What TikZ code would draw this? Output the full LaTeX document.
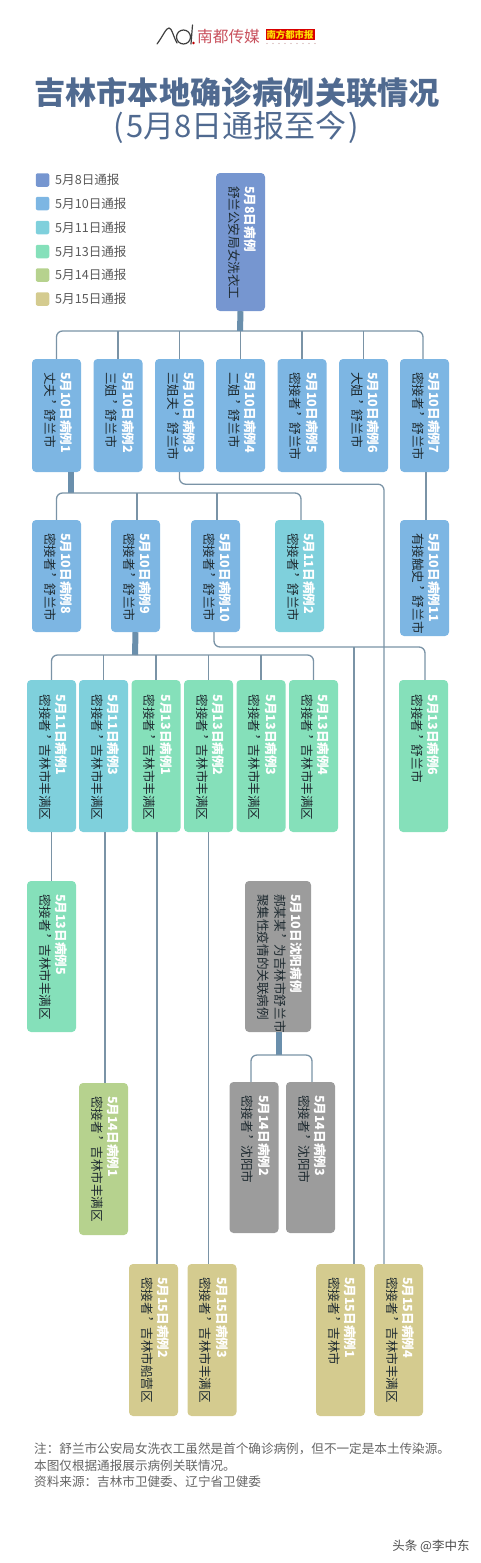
\documentclass[tikz,border=0pt]{standalone}
\usepackage{fontspec}
\setmainfont{Noto Sans CJK SC}
\newfontfamily\vertfont[Vertical=RotatedGlyphs]{Noto Sans CJK SC}
\definecolor{day8}{HTML}{7696D0}
\definecolor{day10}{HTML}{7DB6E3}
\definecolor{day11}{HTML}{7FD0DC}
\definecolor{day13}{HTML}{85E0BA}
\definecolor{day14}{HTML}{B6D28E}
\definecolor{day15}{HTML}{D4CB8F}
\definecolor{dayx}{HTML}{9C9C9C}
\definecolor{linkcol}{HTML}{7A93A6}
\definecolor{trunkcol}{HTML}{6A8FAC}
\definecolor{titlecol}{HTML}{506A90}
\definecolor{inkcol}{HTML}{1E2A30}
\definecolor{mediacol}{HTML}{C8505C}
\newcommand{\casehead}[1]{{\bfseries\color{white}#1}}
\newcommand{\vc}{\kern-5pt，\kern5pt}
\tikzset{
  casebox/.style={rounded corners=4pt,rotate=-90,inner xsep=13pt,inner ysep=0pt,minimum height=49pt,align=left,text width=#1pt-26pt,text=inkcol,font=\fontsize{12.6}{16.5}\selectfont\vertfont,execute at end node={\par\vspace{4pt}}},
  lowtext/.style={execute at begin node={\leftskip=1.5pt\relax}},
  link/.style={draw=linkcol,line width=1.3pt},
  trunk/.style={draw=trunkcol,line width=6pt},
  legbox/.style={rounded corners=2pt,minimum size=13.5pt,inner sep=0pt},
  legtext/.style={anchor=west,inner sep=0pt,text=black!65,font=\fontsize{12.6}{14}\selectfont}
}
\begin{document}
\begin{tikzpicture}[x=1pt,y=-1pt]
  \useasboundingbox (0,0) rectangle (480,1563);
  % masthead
  \draw[black!75,line width=1.2pt,line cap=round] (157,44) .. controls (163,36) and (166,28) .. (169,28) .. controls (172,28) and (173,36) .. (177,43);
  \draw[black!75,line width=1.2pt] (183.5,37) circle (7);
  \draw[black!75,line width=1.2pt,line cap=round] (192.5,25) -- (191,44);
  \fill[red!75!black] (193.5,43) circle (1.3);
  \node[inner sep=0pt,text=mediacol,font=\fontsize{15.7}{16}\selectfont] (media) at (228.5,37) {南都传媒};
  \node[fill=red!85!black,inner sep=1pt,minimum width=48pt,minimum height=11pt,text=yellow!85!orange,font=\fontsize{9.4}{10}\selectfont\bfseries] (paper) at (290,34.5) {南方都市报};
  \foreach \x in {267,273,...,315} \fill[red!40!black!40] (\x,43.5) circle (0.6);
  \node[inner sep=0pt,text=titlecol,font=\fontsize{31.2}{34}\selectfont\bfseries] (title) at (237,93) {吉林市本地确诊病例关联情况};
  \node[inner sep=0pt,text=titlecol,font=\fontsize{31}{34}\selectfont] (subtitle) at (236.5,127) {(\kern2pt 5月8日通报至今\kern2pt)};
  % legend
  \foreach \n/\y/\c/\t in {1/180/day8/5月8日通报,2/203.5/day10/5月10日通报,3/227.5/day11/5月11日通报,4/251.5/day13/5月13日通报,5/275/day14/5月14日通报,6/299/day15/5月15日通报}{
    \node[legbox,fill=\c] (leg\n) at (42.5,\y) {};
    \node[legtext] (legt\n) at (55,\y) {\t};
  }
  % cases
  \node[casebox=138,fill=day8] (root) at (240.5,242) {\casehead{5月8日病例}\\舒兰公安局女洗衣工};
  \node[casebox=113,fill=day10] (a1) at (56.5,415.5) {\casehead{5月10日病例1}\\丈夫\vc 舒兰市};
  \node[casebox=113,fill=day10] (a2) at (118,415.5) {\casehead{5月10日病例2}\\三姐\vc 舒兰市};
  \node[casebox=113,fill=day10] (a3) at (179.5,415.5) {\casehead{5月10日病例3}\\三姐夫\vc 舒兰市};
  \node[casebox=113,fill=day10] (a4) at (240.5,415.5) {\casehead{5月10日病例4}\\二姐\vc 舒兰市};
  \node[casebox=113,fill=day10] (a5) at (302,415.5) {\casehead{5月10日病例5}\\密接者\vc 舒兰市};
  \node[casebox=113,fill=day10] (a6) at (363.5,415.5) {\casehead{5月10日病例6}\\大姐\vc 舒兰市};
  \node[casebox=113,fill=day10] (a7) at (424.5,415.5) {\casehead{5月10日病例7}\\密接者\vc 舒兰市};
  \node[casebox=112,fill=day10] (b1) at (56.5,576) {\casehead{5月10日病例8}\\密接者\vc 舒兰市};
  \node[casebox=112,fill=day10] (b2) at (135.5,576) {\casehead{5月10日病例9}\\密接者\vc 舒兰市};
  \node[casebox=112,fill=day10] (b3) at (215.5,576) {\casehead{5月10日病例10}\\密接者\vc 舒兰市};
  \node[casebox=112,fill=day11] (b4) at (299.5,576) {\casehead{5月11日病例2}\\密接者\vc 舒兰市};
  \node[casebox=116,fill=day10] (b5) at (424.5,578) {\casehead{5月10日病例11}\\有接触史\vc 舒兰市};
  \node[casebox=152,lowtext,fill=day11] (c1) at (51.5,756) {\casehead{5月11日病例1}\\密接者\vc 吉林市丰满区};
  \node[casebox=152,lowtext,fill=day11] (c2) at (103.5,756) {\casehead{5月11日病例3}\\密接者\vc 吉林市丰满区};
  \node[casebox=152,lowtext,fill=day13] (c3) at (156,756) {\casehead{5月13日病例1}\\密接者\vc 吉林市丰满区};
  \node[casebox=152,lowtext,fill=day13] (c4) at (208.5,756) {\casehead{5月13日病例2}\\密接者\vc 吉林市丰满区};
  \node[casebox=152,lowtext,fill=day13] (c5) at (261,756) {\casehead{5月13日病例3}\\密接者\vc 吉林市丰满区};
  \node[casebox=152,lowtext,fill=day13] (c6) at (313.5,756) {\casehead{5月13日病例4}\\密接者\vc 吉林市丰满区};
  \node[casebox=152,lowtext,fill=day13] (c7) at (423.5,756) {\casehead{5月13日病例6}\\密接者\vc 舒兰市};
  \node[casebox=151,fill=day13] (e1) at (51.5,956.5) {\casehead{5月13日病例5}\\密接者\vc 吉林市丰满区};
  \node[casebox=152,fill=day14] (e2) at (103.5,1159) {\casehead{5月14日病例1}\\密接者\vc 吉林市丰满区};
  \node[casebox=151,minimum height=66pt,fill=dayx] (g) at (278,956.5) {\casehead{5月10日沈阳病例}\\郝某某\vc 为吉林市舒兰市\\聚集性疫情的关联病例};
  \node[casebox=151,fill=dayx] (g1) at (254,1157.5) {\casehead{5月14日病例2}\\密接者\vc 沈阳市};
  \node[casebox=151,fill=dayx] (g2) at (310.5,1157.5) {\casehead{5月14日病例3}\\密接者\vc 沈阳市};
  \node[casebox=152,fill=day15] (d1) at (153.5,1340) {\casehead{5月15日病例2}\\密接者\vc 吉林市船营区};
  \node[casebox=152,fill=day15] (d2) at (212,1340) {\casehead{5月15日病例3}\\密接者\vc 吉林市丰满区};
  \node[casebox=152,fill=day15] (d3) at (340.5,1340) {\casehead{5月15日病例1}\\密接者\vc 吉林市};
  \node[casebox=152,fill=day15] (d4) at (398.5,1340) {\casehead{5月15日病例4}\\密接者\vc 吉林市丰满区};
  % buses
  \coordinate (bus1) at (240,331);
  \coordinate (bus2) at (70.5,493);
  \coordinate (bus3) at (135,655);
  \coordinate (bus4) at (279,1055);
  \coordinate (turn2) at (354,647);
  \draw[link,rounded corners=6pt] (a1.west) |- (bus1) -| ([xshift=-1.5pt]a7.west);
  \foreach \n in {a2,a3,a4,a5,a6} \draw[link] (\n.west) -- (\n.west |- bus1);
  \draw[trunk] (root.east) -- (bus1);
  \draw[trunk] ([xshift=14pt]a1.east) -- (bus2);
  \draw[link,rounded corners=6pt] (b1.west) |- (bus2) -| ([xshift=1.5pt]b4.west);
  \draw[link] ([xshift=1.5pt]b2.west) -- ([xshift=1.5pt]b2.west |- bus2);
  \draw[link] ([xshift=1.5pt]b3.west) -- ([xshift=1.5pt]b3.west |- bus2);
  \draw[trunk] (b2.east) -- (bus3);
  \draw[link,rounded corners=6pt] (c1.west) |- (bus3) -| (c6.west);
  \foreach \n in {c2,c3,c4,c5} \draw[link] (\n.west) -- (\n.west |- bus3);
  \draw[trunk] ([xshift=1pt]g.east) -- (bus4);
  \draw[link,rounded corners=6pt] ([xshift=-3pt]g1.west) |- (bus4) -| ([xshift=1.5pt]g2.west);
  % long links
  \draw[link] ([xshift=1.5pt]a7.east) -- ([xshift=1.5pt]b5.west);
  \draw[link,rounded corners=6pt] (a3.east) -- ++(0,12) -| ([xshift=-14.5pt]d4.west);
  \draw[link,rounded corners=6pt] ([xshift=-1.5pt]b3.east) |- (turn2) -| ([xshift=1.5pt]c7.west);
  \draw[link] (turn2) -- (turn2 |- d3.west);
  \draw[link] (c1.east) -- (e1.west);
  \draw[link] ([xshift=1.5pt]c2.east) -- ([xshift=1.5pt]e2.west);
  \draw[link] ([xshift=1pt]c3.east) -- ([xshift=3.5pt]d1.west);
  \draw[link] (c4.east) -- ([xshift=-3.5pt]d2.west);
  % notes
  \node[anchor=north west,inner sep=0pt,align=left,text=black!60,font=\fontsize{12.6}{16.5}\selectfont] (notes) at (34,1443) {注：舒兰市公安局女洗衣工虽然是首个确诊病例，但不一定是本土传染源。\\本图仅根据通报展示病例关联情况。\\资料来源：吉林市卫健委、辽宁省卫健委};
  \node[inner sep=0pt,text=black!70,font=\fontsize{12.5}{14}\selectfont] (mark) at (431,1546) {头条 @李中东};
\end{tikzpicture}
\end{document}
